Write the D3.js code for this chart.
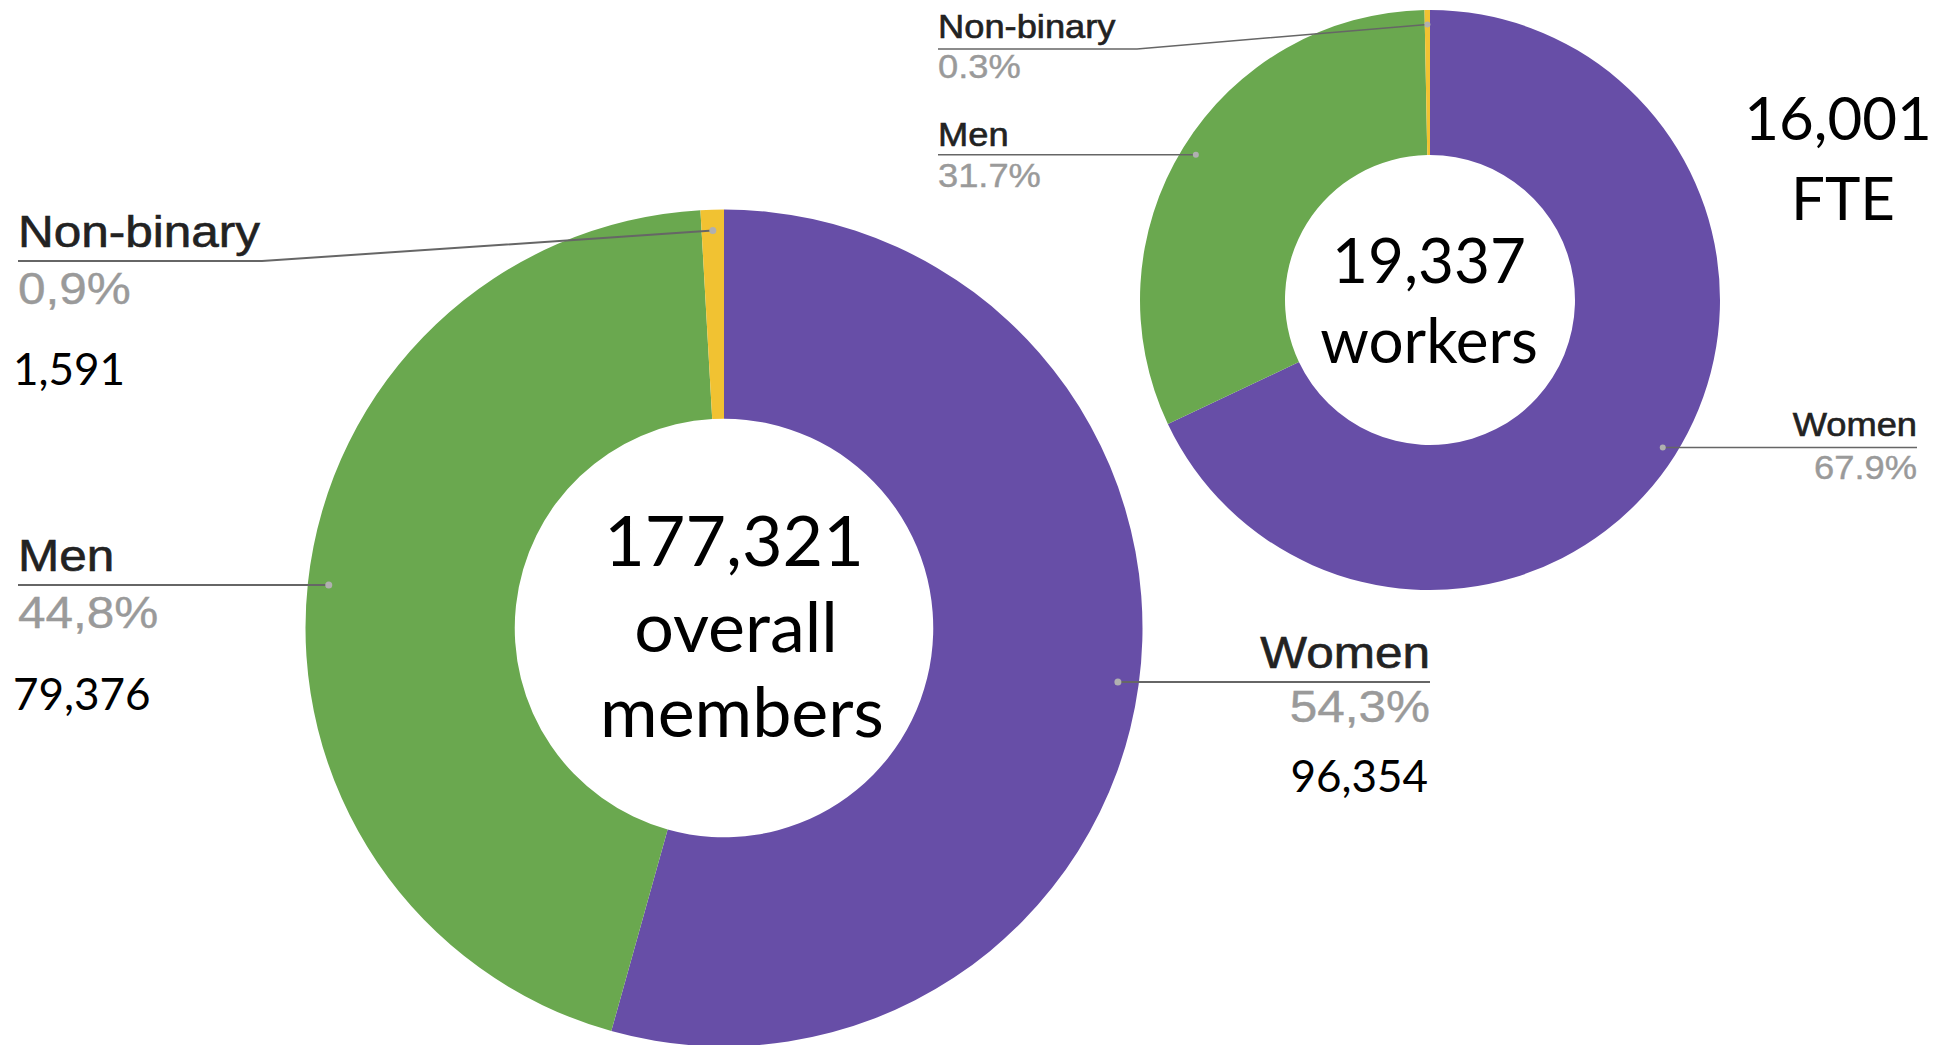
<!DOCTYPE html>
<html>
<head>
<meta charset="utf-8">
<script src="https://cdn.jsdelivr.net/npm/d3@7"></script>
<style>
  body { margin: 0; background: #fff; }
  svg { display: block; }
</style>
</head>
<body>
<script>
const width = 1953;
const height = 1045;

// data
const categories = ["Women", "Men", "Non-binary"];
const colors = ["#674ea7", "#6aa84f", "#f1c232"];
const memberCounts = [96354, 79376, 1591];
const memberPctLabels = ["54,3%", "44,8%", "0,9%"];
const workerPct = [67.9, 31.7, 0.3];
const workerPctLabels = ["67.9%", "31.7%", "0.3%"];
const memberTotal = ["177,321", "overall", "members"];
const workerTotal = ["19,337", "workers"];
const fteTotal = ["16,001", "FTE"];

const svg = d3.select("body")
    .append("svg")
    .attr("width", width)
    .attr("height", height);

const pie = d3.pie().sort(null).value(d => d);

function donut(values, cx, cy, R) {
    const arc = d3.arc().innerRadius(R * 0.5).outerRadius(R);
    const g = svg.append("g").attr("transform", `translate(${cx},${cy})`);
    const arcs = pie(values);
    g.selectAll("path")
        .data(arcs)
        .join("path")
        .attr("d", arc)
        .attr("fill", (d, i) => colors[i]);
    // leader dot positions at 95% of the radius
    return arcs.map(d => {
        const a = (d.startAngle + d.endAngle) / 2;
        return [cx + Math.sin(a) * R * 0.95, cy - Math.cos(a) * R * 0.95];
    });
}

function label(opt) {
    const g = svg.append("g");
    const pts = [];
    if (opt.anchor === "start") {
        pts.push([opt.x, opt.lineY]);
        if (opt.bendX) pts.push([opt.bendX, opt.lineY]);
        pts.push(opt.dot);
    } else {
        pts.push(opt.dot);
        pts.push([opt.x, opt.lineY]);
    }
    g.append("path")
        .attr("d", d3.line()(pts))
        .attr("fill", "none")
        .attr("stroke", "#666")
        .attr("stroke-width", opt.lineW);
    g.append("circle")
        .attr("cx", opt.dot[0]).attr("cy", opt.dot[1])
        .attr("r", opt.lineW + 1.5)
        .attr("fill", "#b0b0b0");
    const sx = 1.1;
    const tx = (y) => `translate(${opt.x},${y}) scale(${sx},1)`;
    g.append("text")
        .attr("transform", tx(opt.lineY - opt.up))
        .attr("text-anchor", opt.anchor)
        .attr("font-family", "'Liberation Sans', Arial, sans-serif")
        .attr("font-size", opt.size)
        .attr("fill", "#222")
        .attr("stroke", "#222")
        .attr("stroke-width", 0.6)
        .text(opt.name);
    g.append("text")
        .attr("transform", tx(opt.lineY + opt.down))
        .attr("text-anchor", opt.anchor)
        .attr("font-family", "'Liberation Sans', Arial, sans-serif")
        .attr("font-size", opt.size)
        .attr("fill", "#9a9a9a")
        .attr("stroke", "#9a9a9a")
        .attr("stroke-width", 0.4)
        .text(opt.pct);
}

function bigText(lines, x, ys, size, anchor) {
    const t = svg.append("text")
        .attr("font-family", "Lato, 'Open Sans', sans-serif")
        .attr("font-size", size)
        .attr("fill", "#000")
        .attr("text-anchor", anchor || "middle");
    lines.forEach((s, i) => {
        t.append("tspan").attr("x", Array.isArray(x) ? x[i] : x).attr("y", ys[i]).text(s);
    });
}

// big donut: overall members
const bigDots = donut(memberCounts, 724, 628, 418.5);
label({x: 1430, lineY: bigDots[0][1], anchor: "end", name: categories[0], pct: memberPctLabels[0],
       size: 45, dot: bigDots[0], lineW: 2, up: 14, down: 40});
label({x: 18, lineY: bigDots[1][1], anchor: "start", name: categories[1], pct: memberPctLabels[1],
       size: 45, dot: bigDots[1], lineW: 2, up: 14, down: 43});
label({x: 18, lineY: 261, anchor: "start", name: categories[2], pct: memberPctLabels[2],
       size: 45, dot: bigDots[2], bendX: 262, lineW: 2, up: 14, down: 43});

const fmt = d3.format(",");
bigText([fmt(memberCounts[0])], 1428, [792], 44, "end");
bigText([fmt(memberCounts[1])], 13, [710], 44, "start");
bigText([fmt(memberCounts[2])], 13, [385], 44, "start");
bigText(memberTotal, [734, 736, 742], [566, 652, 737], 70);

// small donut: workers
const smallDots = donut(workerPct, 1430, 300, 290);
label({x: 1917, lineY: smallDots[0][1], anchor: "end", name: categories[0], pct: workerPctLabels[0],
       size: 33, dot: smallDots[0], lineW: 1.5, up: 11, down: 32});
label({x: 938, lineY: smallDots[1][1], anchor: "start", name: categories[1], pct: workerPctLabels[1],
       size: 33, dot: smallDots[1], lineW: 1.5, up: 9, down: 32});
label({x: 938, lineY: 49, anchor: "start", name: categories[2], pct: workerPctLabels[2],
       size: 33, dot: smallDots[2], bendX: 1137, lineW: 1.5, up: 11, down: 29});

bigText(workerTotal, 1429, [283, 363], 62);
bigText(fteTotal, [1838, 1843], [140, 220], 60);
</script>
</body>
</html>
